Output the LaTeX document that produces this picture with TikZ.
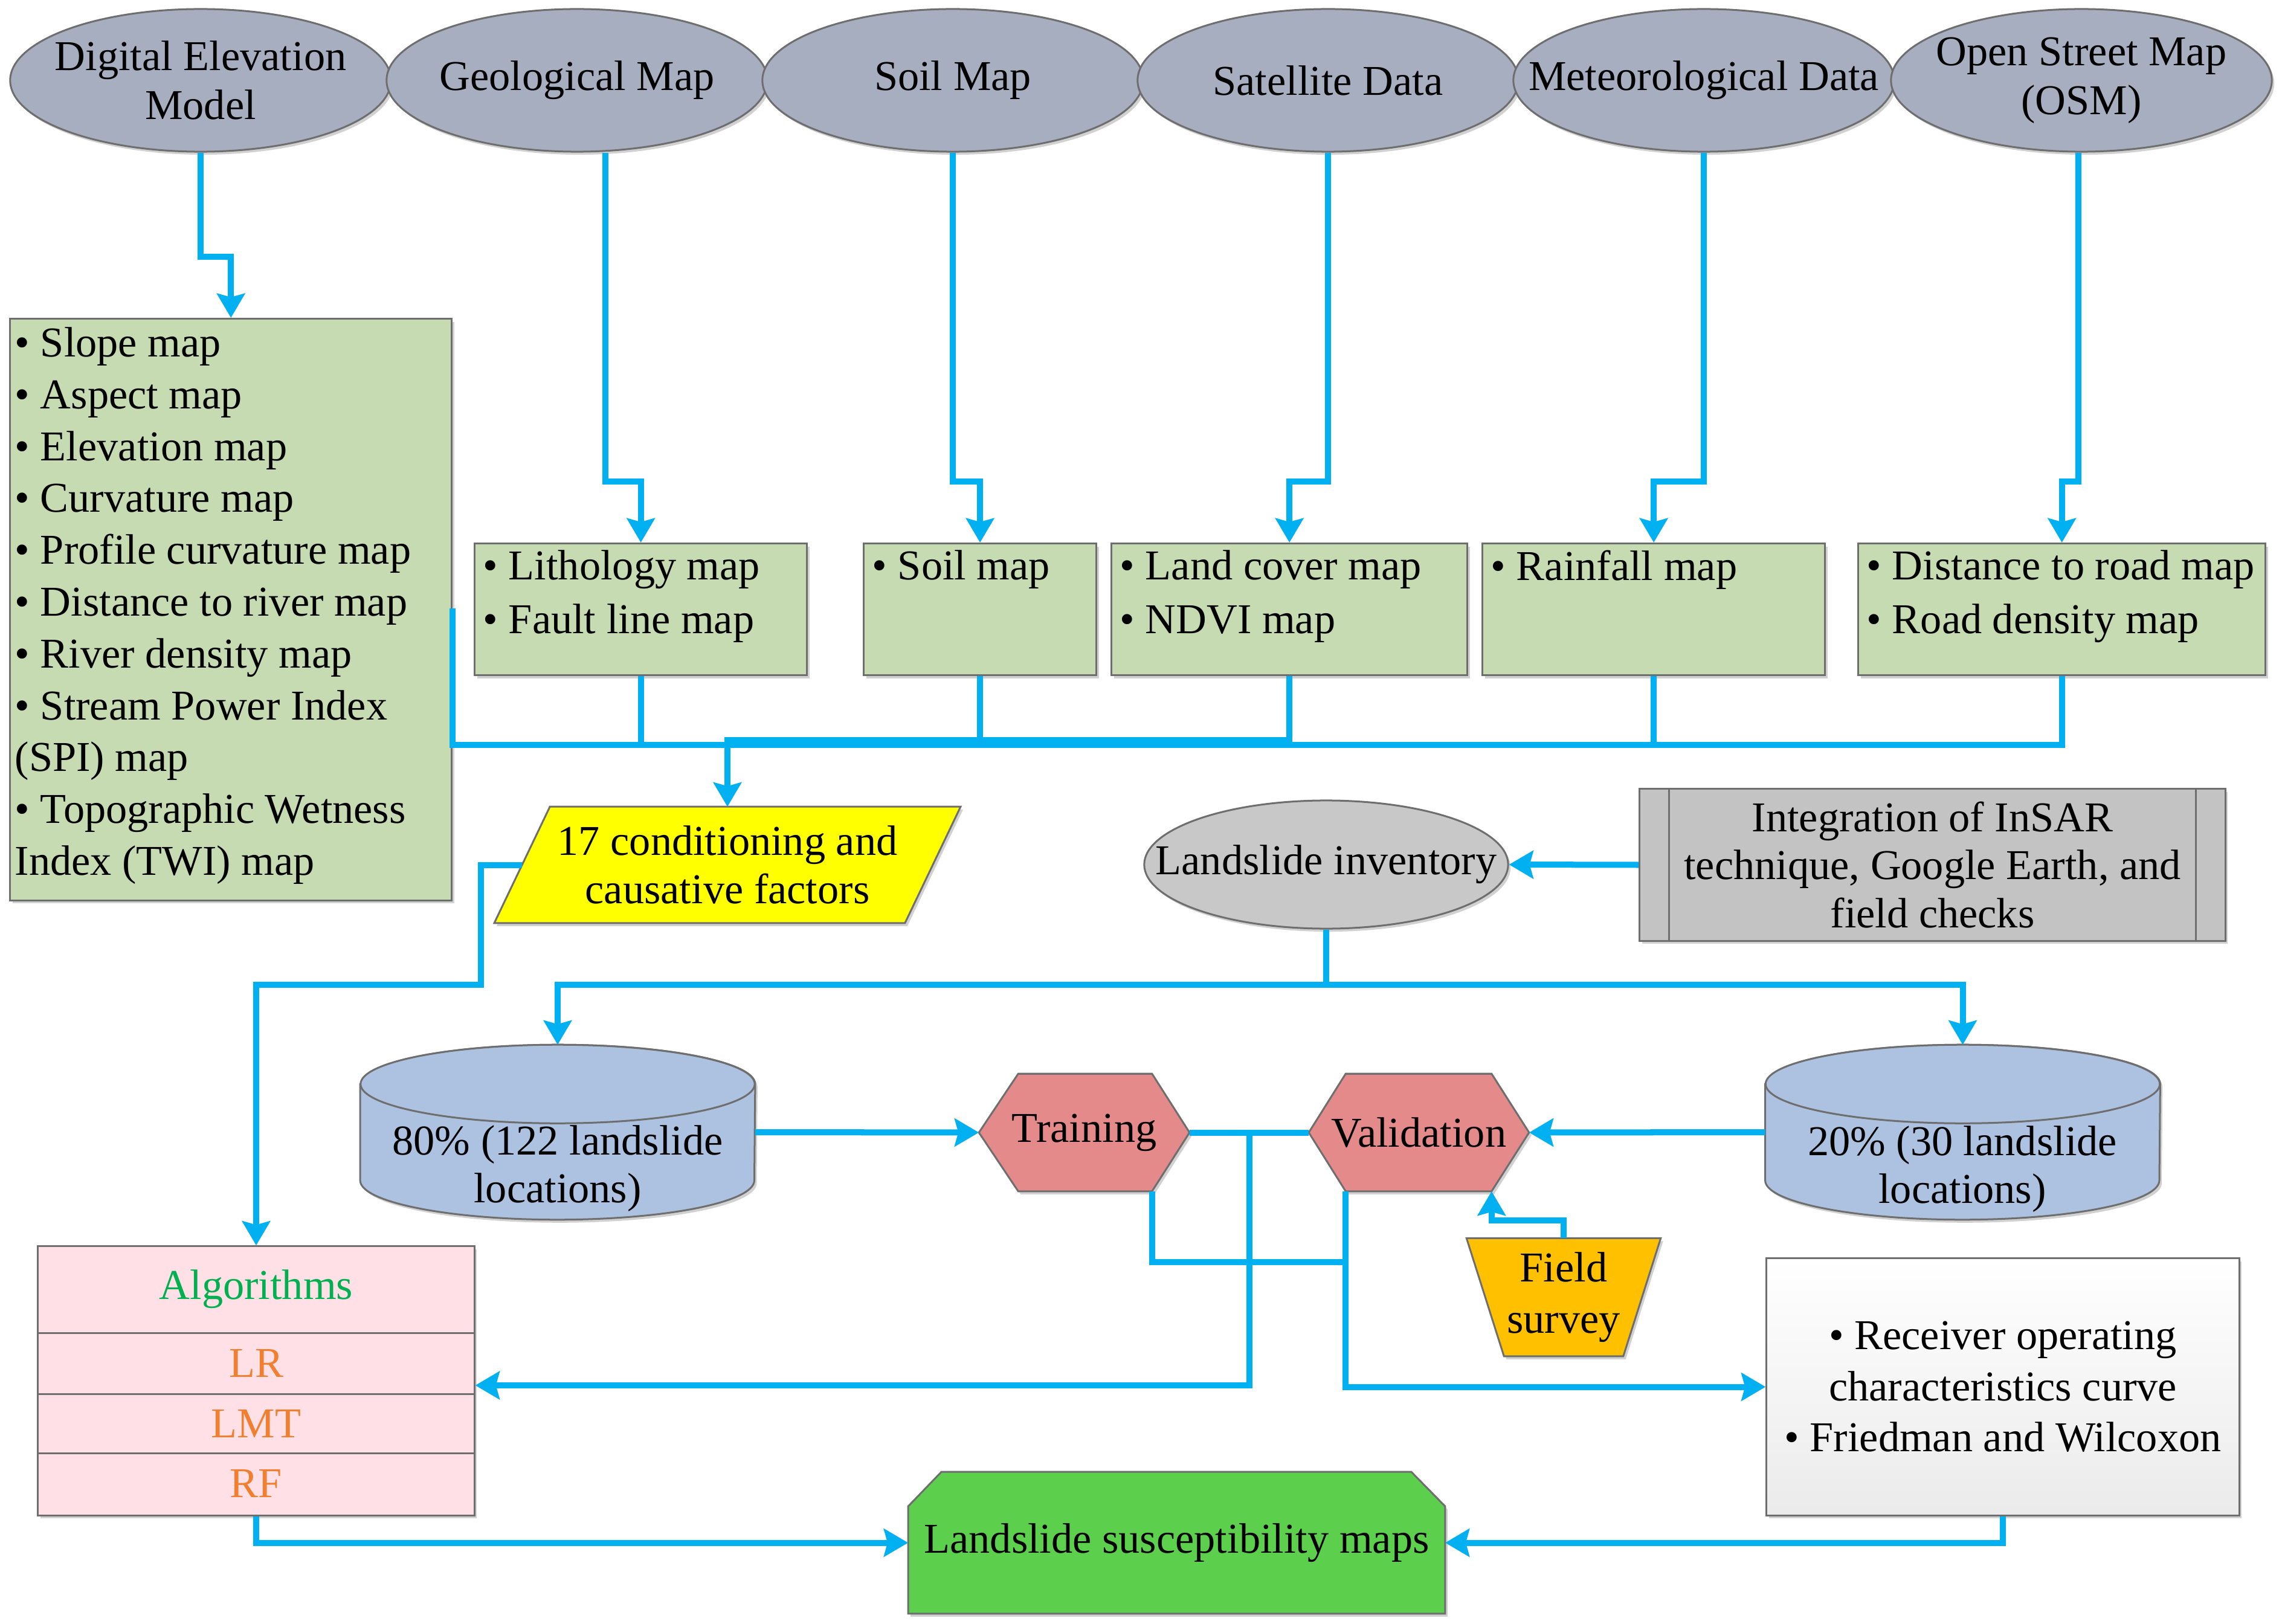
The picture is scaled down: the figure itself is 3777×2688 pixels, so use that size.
\documentclass[tikz,border=0pt]{standalone}
\usepackage{fontspec}
\setmainfont{Liberation Serif}
\usetikzlibrary{shapes.geometric,arrows.meta,backgrounds,shadows,calc}

\definecolor{cblue}{RGB}{0,176,240}
\definecolor{ellgray}{RGB}{166,174,192}
\definecolor{bord}{RGB}{110,110,110}
\definecolor{gboxc}{RGB}{199,219,178}
\definecolor{invgray}{RGB}{200,200,200}
\definecolor{intgray}{RGB}{195,195,195}
\definecolor{cylblue}{RGB}{173,194,224}
\definecolor{hexred}{RGB}{228,138,138}
\definecolor{fieldor}{RGB}{255,192,0}
\definecolor{algpink}{RGB}{255,224,230}
\definecolor{lsmgreen}{RGB}{92,208,76}
\definecolor{alggreen}{RGB}{0,176,80}
\definecolor{algorange}{RGB}{240,128,48}
\definecolor{factyellow}{RGB}{255,255,0}

\begin{document}
\begin{tikzpicture}[x=0.01cm,y=-0.01cm,
 font=\fontsize{20}{23}\selectfont,
 shd/.style={drop shadow={shadow xshift=0.04cm,shadow yshift=-0.05cm,opacity=0.18,fill=black}},
 shp/.style={draw=bord,line width=0.03cm},
 ell/.style={shp,shd,ellipse,fill=ellgray,inner sep=0pt,minimum width=6.3cm,minimum height=2.36cm},
 txt/.style={inner sep=0pt,align=center},
 lst/.style={inner sep=0pt,align=left,anchor=north west,font=\fontsize{20}{25.3}\selectfont},
 gb/.style={shp,shd,rectangle,fill=gboxc,inner sep=0pt,anchor=north west,minimum height=2.18cm},
 bb/.style={inner sep=0pt,rectangle,align=center},
 conn/.style={draw=cblue,line width=0.1cm},
 arr/.style={conn,-{Stealth[length=0.4cm,width=0.46cm,inset=0.06cm]}},
]
\useasboundingbox (0,0) rectangle (3777,2688);
\begin{scope}[on background layer]
\fill[white] (0,0) rectangle (3777,2688);
\end{scope}

% ---------- top ellipses ----------
\node[ell] (dem) at (332,133) {};
\node[ell] (geo) at (955,133) {};
\node[ell] (soil) at (1577,133) {};
\node[ell] (sat) at (2198,133) {};
\node[ell] (met) at (2820,133) {};
\node[ell] (osm) at (3445,133) {};
\node[txt] (demT) at (dem) {Digital Elevation\\Model};
\node[txt] (geoT) at (geo) {Geological Map};
\node[txt] (soilT) at (soil) {Soil Map};
\node[txt] (satT) at (sat) {Satellite Data};
\node[txt] (metT) at (met) {Meteorological Data};
\node[txt] (osmT) at (osm) {Open Street Map\\(OSM)};

% ---------- green boxes ----------
\node[gb,minimum width=7.31cm,minimum height=9.62cm] (big) at (15,526) {};
\node[gb,minimum width=5.50cm] (lith) at (784,898) {};
\node[gb,minimum width=3.85cm] (soilb) at (1428,898) {};
\node[gb,minimum width=5.89cm] (land) at (1838,898) {};
\node[gb,minimum width=5.67cm] (rain) at (2452,898) {};
\node[gb,minimum width=6.74cm] (dist) at (3074,898) {};

\node[lst,font=\fontsize{20}{24.4}\selectfont] (bigT) at ([xshift=0.09cm,yshift=-0.15cm]big.north west)
 {•~Slope map\\•~Aspect map\\•~Elevation map\\•~Curvature map\\•~Profile curvature map\\•~Distance to river map\\•~River density map\\•~Stream Power Index\\(SPI) map\\•~Topographic Wetness\\Index (TWI) map};
\node[lst] (lithT) at ([xshift=0.15cm,yshift=-0.12cm]lith.north west) {•~Lithology map\\•~Fault line map};
\node[lst] (soilbT) at ([xshift=0.15cm,yshift=-0.12cm]soilb.north west) {•~Soil map};
\node[lst] (landT) at ([xshift=0.15cm,yshift=-0.12cm]land.north west) {•~Land cover map\\•~NDVI map};
\node[lst] (rainT) at ([xshift=0.15cm,yshift=-0.12cm]rain.north west) {•~Rainfall map};
\node[lst] (distT) at ([xshift=0.15cm,yshift=-0.12cm]dist.north west) {•~Distance to road map\\•~Road density map};

% ---------- factors parallelogram ----------
\node[bb,minimum width=7.70cm,minimum height=1.91cm,font=\fontsize{20}{22.7}\selectfont] (fact) at (1204,1431.5) {17 conditioning and\\causative factors};
\begin{scope}[on background layer]
\draw[shp,shd,fill=factyellow] ([xshift=0.92cm]fact.north west) -- (fact.north east) -- ([xshift=-0.92cm]fact.south east) -- (fact.south west) -- cycle;
\end{scope}

% ---------- inventory ----------
\node[shp,shd,ellipse,fill=invgray,inner sep=0pt,minimum width=6.02cm,minimum height=2.12cm] (inv) at (2195,1431) {};
\node[txt] (invT) at (inv) {Landslide inventory};
\node[shp,shd,rectangle,fill=intgray,inner sep=0pt,minimum width=9.69cm,minimum height=2.51cm] (integ) at (3198.5,1431.5) {};
\draw[shp] ([xshift=0.5cm]integ.north west) -- ([xshift=0.5cm]integ.south west);
\draw[shp] ([xshift=-0.5cm]integ.north east) -- ([xshift=-0.5cm]integ.south east);
\node[txt,font=\fontsize{20}{22.5}\selectfont] (integT) at (integ) {Integration of InSAR\\technique, Google Earth, and\\field checks};

% ---------- cylinders ----------
\node[bb,minimum width=6.52cm,minimum height=2.88cm] (cyl80) at (923,1874) {};
\node[bb,minimum width=6.52cm,minimum height=2.88cm] (cyl20) at (3248.5,1874) {};
\begin{scope}[on background layer]
\draw[shp,shd,fill=cylblue] ([yshift=-0.65cm]cyl80.north west) -- ([yshift=0.65cm]cyl80.south west)
  arc[start angle=180,end angle=360,x radius=3.26cm,y radius=0.65cm] -- ([yshift=-0.65cm]cyl80.north east)
  arc[start angle=0,end angle=180,x radius=3.26cm,y radius=0.65cm] -- cycle;
\draw[shp,fill=cylblue] ([yshift=-0.65cm]cyl80.north) ellipse[x radius=3.26cm,y radius=0.65cm];
\draw[shp,shd,fill=cylblue] ([yshift=-0.65cm]cyl20.north west) -- ([yshift=0.65cm]cyl20.south west)
  arc[start angle=180,end angle=360,x radius=3.26cm,y radius=0.65cm] -- ([yshift=-0.65cm]cyl20.north east)
  arc[start angle=0,end angle=180,x radius=3.26cm,y radius=0.65cm] -- cycle;
\draw[shp,fill=cylblue] ([yshift=-0.65cm]cyl20.north) ellipse[x radius=3.26cm,y radius=0.65cm];
\end{scope}
\node[txt,font=\fontsize{20}{22.5}\selectfont] (cyl80T) at (923,1934) {80\% (122 landslide\\locations)};
\node[txt,font=\fontsize{20}{22.5}\selectfont] (cyl20T) at (3248,1935) {20\% (30 landslide\\locations)};

% ---------- hexagons ----------
\node[bb,minimum width=3.47cm,minimum height=1.93cm] (train) at (1794.5,1874.5) {Training};
\node[bb,minimum width=3.63cm,minimum height=1.93cm] (val) at (2348.5,1874.5) {Validation};
\begin{scope}[on background layer]
\draw[shp,shd,fill=hexred] (train.west) -- ([xshift=0.65cm]train.north west) -- ([xshift=-0.62cm]train.north east) -- (train.east) -- ([xshift=-0.62cm]train.south east) -- ([xshift=0.65cm]train.south west) -- cycle;
\draw[shp,shd,fill=hexred] (val.west) -- ([xshift=0.61cm]val.north west) -- ([xshift=-0.62cm]val.north east) -- (val.east) -- ([xshift=-0.62cm]val.south east) -- ([xshift=0.61cm]val.south west) -- cycle;
\end{scope}

% ---------- field survey ----------
\node[bb,minimum width=3.20cm,minimum height=1.94cm,font=\fontsize{20}{24}\selectfont] (field) at (2588,2147) {Field\\survey};
\begin{scope}[on background layer]
\draw[shp,shd,fill=fieldor] (field.north west) -- (field.north east) -- ([xshift=-0.62cm]field.south east) -- ([xshift=0.62cm]field.south west) -- cycle;
\end{scope}

% ---------- algorithms ----------
\node[shp,shd,rectangle,fill=algpink,inner sep=0pt,minimum width=7.22cm,minimum height=4.45cm] (alg) at (424,2285.5) {};
\draw[shp] ([yshift=-1.45cm]alg.north west) -- ([yshift=-1.45cm]alg.north east);
\draw[shp] ([yshift=-2.46cm]alg.north west) -- ([yshift=-2.46cm]alg.north east);
\draw[shp] ([yshift=-3.44cm]alg.north west) -- ([yshift=-3.44cm]alg.north east);
\node[txt,text=alggreen] (algT) at ([yshift=-0.72cm]alg.north) {Algorithms};
\node[txt,text=algorange] (lrT) at ([yshift=-1.95cm]alg.north) {LR};
\node[txt,text=algorange] (lmtT) at ([yshift=-2.95cm]alg.north) {LMT};
\node[txt,text=algorange] (rfT) at ([yshift=-3.94cm]alg.north) {RF};

% ---------- ROC ----------
\node[shp,shd,rectangle,top color=white,bottom color=black!8,inner sep=0pt,minimum width=7.82cm,minimum height=4.25cm,align=center,font=\fontsize{20}{24}\selectfont] (roc) at (3315,2295.5) {•~Receiver operating\\characteristics curve\\•~Friedman and Wilcoxon};

% ---------- susceptibility maps ----------
\node[bb,minimum width=8.87cm,minimum height=2.33cm] (lsm) at (1947.5,2553.5) {Landslide susceptibility maps};
\begin{scope}[on background layer]
\draw[shp,shd,fill=lsmgreen] ([yshift=-0.57cm]lsm.north west) -- ([xshift=0.55cm]lsm.north west) -- ([xshift=-0.56cm]lsm.north east) -- ([yshift=-0.57cm]lsm.north east) -- (lsm.south east) -- (lsm.south west) -- cycle;
\end{scope}

% ---------- helper levels ----------
\coordinate (lvA) at (0,1233);
\coordinate (lvA2) at (0,1225);
\coordinate (lvB) at (0,1007);
\coordinate (lvC) at (0,1630);
\coordinate (lvD) at (0,2293);
\coordinate (lvE) at (0,2089);
\coordinate (j1) at ($(train.east)!0.5!(val.west)$);
\coordinate (trainSE) at ([xshift=-0.62cm]train.south east);
\coordinate (valSW) at ([xshift=0.61cm]val.south west);
\coordinate (valSE) at ([xshift=-0.62cm]val.south east);

% ---------- connectors ----------
\draw[arr] (dem.south) -- ++(0,172) -| (big.north);
\draw[arr] ([xshift=0.47cm]geo.south) -- ++(0,544) -| (lith.north);
\draw[arr] (soil.south) -- ++(0,544) -| (soilb.north);
\draw[arr] (sat.south) -- ++(0,544) -| (land.north);
\draw[arr] (met.south) -- ++(0,544) -| (rain.north);
\draw[arr] ([xshift=-0.05cm]osm.south) -- ++(0,544) -| (dist.north);

\draw[conn] (big.east |- lvB) |- (dist.south |- lvA) -- (dist.south);
\draw[conn] (lith.south) -- (lith.south |- lvA);
\draw[conn] (soilb.south) -- (soilb.south |- lvA);
\draw[conn] (rain.south) -- (rain.south |- lvA);
\draw[arr] (land.south) |- (fact.north |- lvA2) -- (fact.north);

\draw[arr] ([xshift=0.46cm]fact.west) -- ++(-68,0) |- (alg.north |- lvC) -- (alg.north);

\draw[arr] (integ.west) -- (inv.east);
\draw[arr] (inv.south) |- (cyl80.north |- lvC) -- (cyl80.north);
\draw[arr] (inv.south) |- (cyl20.north |- lvC) -- (cyl20.north);

\draw[arr] (cyl80.east) -- (train.west);
\draw[arr] (cyl20.west) -- (val.east);
\draw[conn] (train.east) -- (val.west);
\draw[arr] (j1) |- (alg.east |- lvD);
\draw[conn] (trainSE) |- (valSW |- lvE);
\draw[arr] (valSW) |- (roc.west);
\draw[arr] (field.north) -- ++(0,-29) -| (valSE);
\draw[arr] (alg.south) |- (lsm.west);
\draw[arr] (roc.south) |- (lsm.east);
\end{tikzpicture}
\end{document}
